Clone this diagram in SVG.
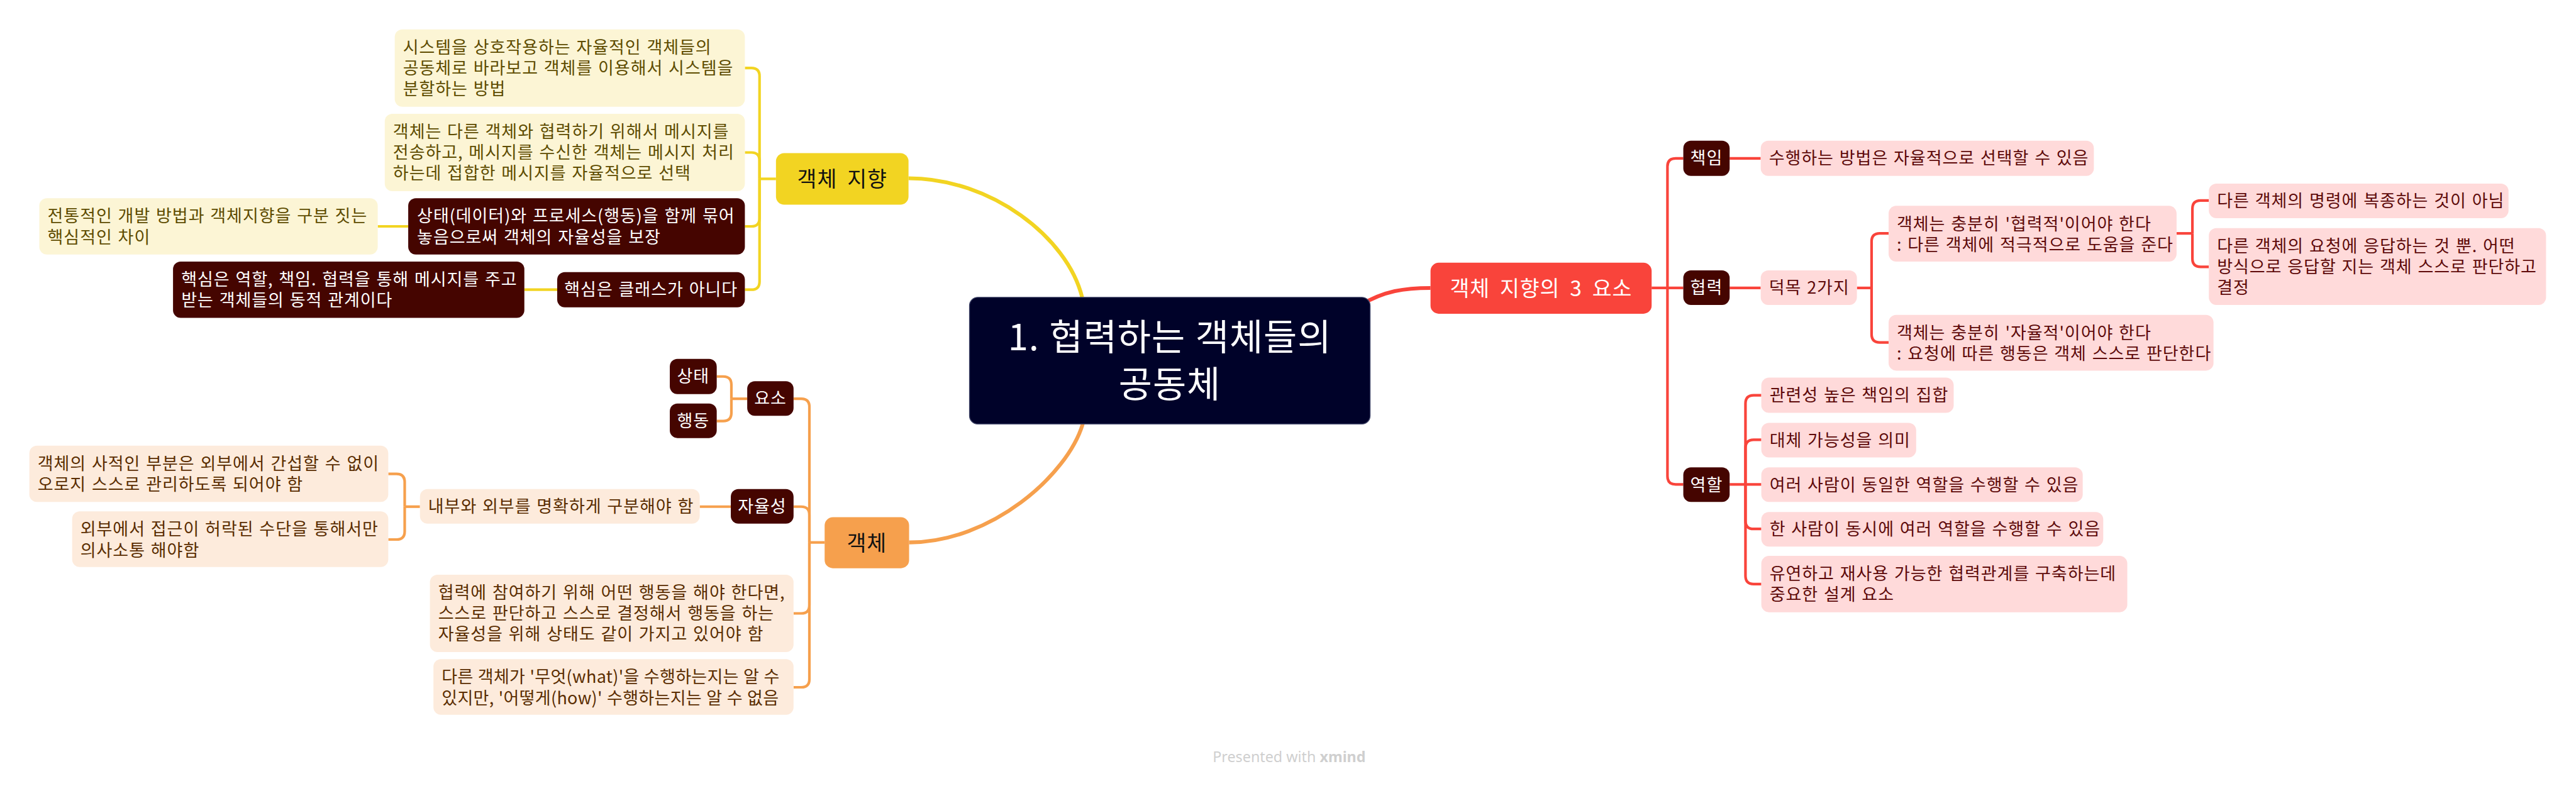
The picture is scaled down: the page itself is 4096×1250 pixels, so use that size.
<svg xmlns="http://www.w3.org/2000/svg" width="4096" height="1250" viewBox="0 0 4096 1250">
<style>
.t{font-family:"Noto Sans CJK KR","Noto Sans",sans-serif;font-size:29px;letter-spacing:1px;word-spacing:2px}
.nar{letter-spacing:0.3px;word-spacing:1px}
.big{font-size:36px;letter-spacing:1px;word-spacing:8px}
.root{font-size:62px;fill:#fff;letter-spacing:1px;word-spacing:2px}
.mid{text-anchor:middle}
.tw{fill:#fff}
.ty{fill:#5E4C00}
.to{fill:#5A2D00}
.tr{fill:#5E0A0A}
.tk{fill:#111}
.dk{fill:#450500}
.ly{fill:#FCF5D5}
.lo{fill:#FDEBDC}
.lr{fill:#FFDADA}
.conn{fill:none;stroke-width:4.5}
.main{fill:none;stroke-width:6.5}
.cy{stroke:#F2D422}
.co{stroke:#F6A04D}
.cr{stroke:#F9443B}
</style>
<rect width="4096" height="1250" fill="#fff"/>
<g transform="scale(0.93260)">
<g id="connectors">
<path class="main cy" d="M1845 507 C1820 405 1690 304 1549 304"/>
<path class="main co" d="M1846 723 C1820 810 1690 925 1550 925"/>
<path class="main cr" d="M2320 520 C2360 496 2395 491 2439 491"/>
<g class="conn cy">
<path d="M1323 305 H1295"/>
<path d="M1270 116 H1281 Q1295 116 1295 130 V305"/>
<path d="M1270 260 H1281 Q1295 260 1295 274 V305"/>
<path d="M1270 386 H1281 Q1295 386 1295 372 V305"/>
<path d="M1270 494 H1281 Q1295 494 1295 480 V305"/>
<path d="M696 386 H644"/>
<path d="M950 494 H894"/>
</g>
<g class="conn co">
<path d="M1406 925 H1380"/>
<path d="M1353 680 H1366 Q1380 680 1380 694 V925"/>
<path d="M1353 864 H1366 Q1380 864 1380 878 V925"/>
<path d="M1353 1046 H1366 Q1380 1046 1380 1032 V925"/>
<path d="M1353 1172 H1366 Q1380 1172 1380 1158 V925"/>
<path d="M1274 680 H1247"/>
<path d="M1222 642 H1233 Q1247 642 1247 656 V680"/>
<path d="M1222 718 H1233 Q1247 718 1247 704 V680"/>
<path d="M1246 864 H1193"/>
<path d="M716 864 H690"/>
<path d="M662 808 H676 Q690 808 690 822 V864"/>
<path d="M662 920 H676 Q690 920 690 906 V864"/>
</g>
<g class="conn cr">
<path d="M2816 491 H2870"/>
<path d="M2870 270 H2857 Q2843 270 2843 284 V491"/>
<path d="M2870 826 H2857 Q2843 826 2843 812 V491"/>
<path d="M2949 270 H3002"/>
<path d="M2949 491 H3002"/>
<path d="M3166 491 H3191"/>
<path d="M3220 398 H3205 Q3191 398 3191 412 V491"/>
<path d="M3220 584 H3205 Q3191 584 3191 570 V491"/>
<path d="M3711 398 H3738"/>
<path d="M3766 342 H3752 Q3738 342 3738 356 V398"/>
<path d="M3766 455 H3752 Q3738 455 3738 441 V398"/>
<path d="M2949 826 H3003"/>
<path d="M3003 674 H2990 Q2976 674 2976 688 V826"/>
<path d="M3003 750 H2990 Q2976 750 2976 764 V826"/>
<path d="M3003 902 H2990 Q2976 902 2976 888 V826"/>
<path d="M3003 996 H2990 Q2976 996 2976 982 V826"/>
</g>
</g>

<g id="root">
<rect x="1653" y="507" width="683" height="216" rx="14" fill="#000229" stroke="#3d4266" stroke-width="1.5"/>
<text class="t root mid" x="1994.5" y="597">1. 협력하는 객체들의</text>
<text class="t root mid" x="1994.5" y="678">공동체</text>
</g>

<g id="topic-oop">
<rect x="1323" y="261" width="226" height="88" rx="14" fill="#F2D422"/>
<text class="t big mid tk" x="1436" y="318">객체 지향</text>
</g>
<g id="oop-1">
<rect class="ly" x="673" y="50" width="597" height="132" rx="13"/>
<text class="t ty" x="687" y="91">시스템을 상호작용하는 자율적인 객체들의</text>
<text class="t ty" x="687" y="126.5">공동체로 바라보고 객체를 이용해서 시스템을</text>
<text class="t ty" x="687" y="162">분할하는 방법</text>
</g>
<g id="oop-2">
<rect class="ly" x="656" y="194" width="614" height="132" rx="13"/>
<text class="t ty" x="670" y="235">객체는 다른 객체와 협력하기 위해서 메시지를</text>
<text class="t ty" x="670" y="270.5">전송하고, 메시지를 수신한 객체는 메시지 처리</text>
<text class="t ty" x="670" y="306">하는데 접합한 메시지를 자율적으로 선택</text>
</g>
<g id="oop-3">
<rect class="dk" x="696" y="338" width="574" height="96" rx="13"/>
<text class="t tw" x="711" y="379">상태(데이터)와 프로세스(행동)을 함께 묶어</text>
<text class="t tw" x="711" y="414.5">놓음으로써 객체의 자율성을 보장</text>
</g>
<g id="oop-3a">
<rect class="ly" x="67" y="338" width="577" height="96" rx="13"/>
<text class="t ty" x="81" y="379">전통적인 개발 방법과 객체지향을 구분 짓는</text>
<text class="t ty" x="81" y="414.5">핵심적인 차이</text>
</g>
<g id="oop-4">
<rect class="dk" x="950" y="464" width="320" height="60" rx="13"/>
<text class="t tw mid" x="1110" y="504">핵심은 클래스가 아니다</text>
</g>
<g id="oop-4a">
<rect class="dk" x="295" y="446" width="599" height="96" rx="13"/>
<text class="t tw" x="309" y="487">핵심은 역할, 책임. 협력을 통해 메시지를 주고</text>
<text class="t tw" x="309" y="522.5">받는 객체들의 동적 관계이다</text>
</g>

<g id="topic-object">
<rect x="1406" y="882" width="144" height="87" rx="14" fill="#F6A04D"/>
<text class="t big mid tk" x="1478" y="939">객체</text>
</g>
<g id="obj-element">
<rect class="dk" x="1274" y="650" width="79" height="59" rx="13"/>
<text class="t tw mid" x="1313.5" y="690">요소</text>
</g>
<g id="obj-state">
<rect class="dk" x="1142" y="612" width="80" height="60" rx="13"/>
<text class="t tw mid" x="1182" y="652">상태</text>
</g>
<g id="obj-behavior">
<rect class="dk" x="1142" y="688" width="80" height="59" rx="13"/>
<text class="t tw mid" x="1182" y="728">행동</text>
</g>
<g id="obj-autonomy">
<rect class="dk" x="1246" y="834" width="107" height="59" rx="13"/>
<text class="t tw mid" x="1299.5" y="874">자율성</text>
</g>
<g id="obj-inout">
<rect class="lo" x="716" y="834" width="477" height="59" rx="13"/>
<text class="t to" x="730" y="874">내부와 외부를 명확하게 구분해야 함</text>
</g>
<g id="obj-private">
<rect class="lo" x="50" y="760" width="612" height="96" rx="13"/>
<text class="t to" x="64" y="801">객체의 사적인 부분은 외부에서 간섭할 수 없이</text>
<text class="t to" x="64" y="836.5">오로지 스스로 관리하도록 되어야 함</text>
</g>
<g id="obj-public">
<rect class="lo" x="123" y="872" width="539" height="95" rx="13"/>
<text class="t to" x="137" y="913">외부에서 접근이 허락된 수단을 통해서만</text>
<text class="t to" x="137" y="948.5">의사소통 해야함</text>
</g>
<g id="obj-collab">
<rect class="lo" x="733" y="980" width="620" height="132" rx="13"/>
<text class="t to" x="747" y="1021">협력에 참여하기 위해 어떤 행동을 해야 한다면,</text>
<text class="t to" x="747" y="1056.5">스스로 판단하고 스스로 결정해서 행동을 하는</text>
<text class="t to" x="747" y="1092">자율성을 위해 상태도 같이 가지고 있어야 함</text>
</g>
<g id="obj-whathow">
<rect class="lo" x="739" y="1124" width="614" height="95" rx="13"/>
<text class="t to nar" x="753" y="1165">다른 객체가 '무엇(what)'을 수행하는지는 알 수</text>
<text class="t to nar" x="753" y="1200.5">있지만, '어떻게(how)' 수행하는지는 알 수 없음</text>
</g>

<g id="topic-three">
<rect x="2439" y="448" width="377" height="87" rx="14" fill="#F9443B"/>
<text class="t big mid" fill="#fff" x="2627.5" y="505">객체 지향의 3 요소</text>
</g>
<g id="resp">
<rect class="dk" x="2870" y="240" width="79" height="60" rx="13"/>
<text class="t tw mid" x="2909.5" y="280">책임</text>
</g>
<g id="collab">
<rect class="dk" x="2870" y="461" width="79" height="59" rx="13"/>
<text class="t tw mid" x="2909.5" y="501">협력</text>
</g>
<g id="role">
<rect class="dk" x="2870" y="797" width="79" height="59" rx="13"/>
<text class="t tw mid" x="2909.5" y="837">역할</text>
</g>
<g id="resp-1">
<rect class="lr" x="3002" y="240" width="568" height="60" rx="13"/>
<text class="t tr" x="3016" y="280">수행하는 방법은 자율적으로 선택할 수 있음</text>
</g>
<g id="collab-1">
<rect class="lr" x="3002" y="461" width="164" height="59" rx="13"/>
<text class="t tr" x="3016" y="501">덕목 2가지</text>
</g>
<g id="collab-2">
<rect class="lr" x="3220" y="351" width="491" height="95" rx="13"/>
<text class="t tr" x="3234" y="392">객체는 충분히 '협력적'이어야 한다</text>
<text class="t tr" x="3234" y="427.5">: 다른 객체에 적극적으로 도움을 준다</text>
</g>
<g id="collab-3">
<rect class="lr" x="3220" y="537" width="554" height="95" rx="13"/>
<text class="t tr" x="3234" y="578">객체는 충분히 '자율적'이어야 한다</text>
<text class="t tr" x="3234" y="613.5">: 요청에 따른 행동은 객체 스스로 판단한다</text>
</g>
<g id="collab-2a">
<rect class="lr" x="3766" y="313" width="511" height="59" rx="13"/>
<text class="t tr" x="3780" y="353">다른 객체의 명령에 복종하는 것이 아님</text>
</g>
<g id="collab-2b">
<rect class="lr" x="3766" y="389" width="575" height="131" rx="13"/>
<text class="t tr" x="3780" y="430">다른 객체의 요청에 응답하는 것 뿐. 어떤</text>
<text class="t tr" x="3780" y="465.5">방식으로 응답할 지는 객체 스스로 판단하고</text>
<text class="t tr" x="3780" y="501">결정</text>
</g>
<g id="role-1">
<rect class="lr" x="3003" y="644" width="328" height="60" rx="13"/>
<text class="t tr" x="3017" y="684">관련성 높은 책임의 집합</text>
</g>
<g id="role-2">
<rect class="lr" x="3003" y="721" width="264" height="59" rx="13"/>
<text class="t tr" x="3017" y="761">대체 가능성을 의미</text>
</g>
<g id="role-3">
<rect class="lr" x="3003" y="797" width="548" height="59" rx="13"/>
<text class="t tr" x="3017" y="837">여러 사람이 동일한 역할을 수행할 수 있음</text>
</g>
<g id="role-4">
<rect class="lr" x="3003" y="873" width="583" height="59" rx="13"/>
<text class="t tr" x="3017" y="913">한 사람이 동시에 여러 역할을 수행할 수 있음</text>
</g>
<g id="role-5">
<rect class="lr" x="3003" y="948" width="624" height="96" rx="13"/>
<text class="t tr" x="3017" y="989">유연하고 재사용 가능한 협력관계를 구축하는데</text>
<text class="t tr" x="3017" y="1024.5">중요한 설계 요소</text>
</g>

<text x="2198" y="1300" text-anchor="middle" font-family="'Noto Sans',sans-serif" font-size="25" fill="#CFCFCF">Presented with <tspan font-weight="bold">xmind</tspan></text>
</g>
</svg>
